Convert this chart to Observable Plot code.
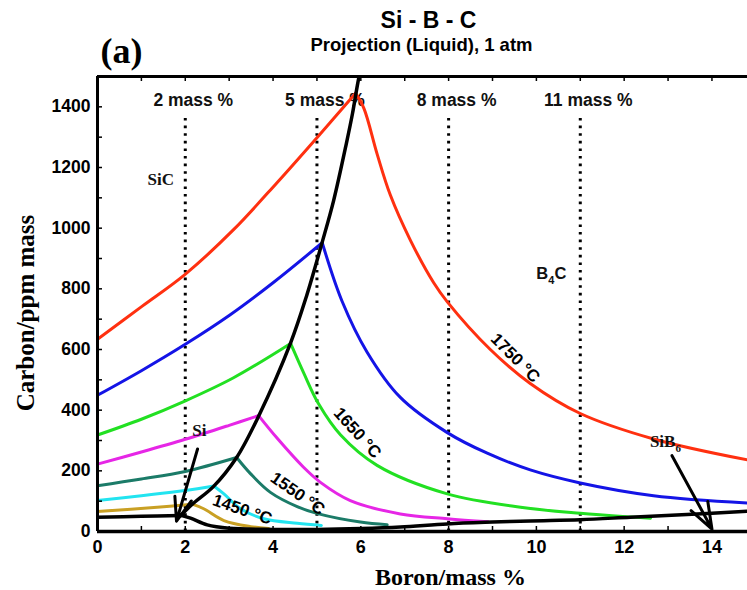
<!DOCTYPE html>
<html>
<head>
<meta charset="utf-8">
<script src="https://cdn.jsdelivr.net/npm/d3@7"></script>
<script src="https://cdn.jsdelivr.net/npm/@observablehq/plot@0.6"></script>
<style>
  html, body { margin: 0; padding: 0; background: #fff; }
</style>
</head>
<body>
<div id="chart"></div>
<script>
// ---- Data (Boron mass %, Carbon ppm mass) ----
const iso1750 = [[0,634],[1.02,743],[1.99,847],[3.1,995],[4.09,1150],[5.04,1305],[5.88,1445],
  [6.07,1395],[6.37,1245],[6.67,1110],[7.13,960],[7.66,820],[7.97,757],[8.95,600],[9.86,488],[11,389],[12.67,305],[14.81,236]];
const iso1700 = [[0,449],[1,530],[2,617],[3,712],[4,820],[5.12,952],
  [5.57,760],[6.14,592],[6.9,442],[7.97,326],[8.88,258],[9.86,203],[11,160],[12.67,118],[14.81,94]];
const iso1650 = [[0,318],[1,370],[1.99,430],[3.1,507],[4.40,620],
  [4.7,522],[5.04,420],[5.54,318],[6.37,218],[7.97,124],[9.64,80],[11,60],[12.14,48],[12.6,44]];
const iso1600 = [[0,222],[1,262],[2,304],[3,350],[3.67,382],
  [4.09,308],[4.7,211],[5.08,162],[5.76,102],[6.9,58],[7.97,42],[8.9,32]];
const iso1550 = [[0,151],[1,173],[2,198],[3.17,244],
  [3.49,190],[3.94,129],[4.55,82],[5.04,58],[5.99,31],[6.6,22]];
const iso1500 = [[0,102],[1,118],[1.99,135],[2.65,150],
  [2.88,124],[3.26,75],[3.79,42],[4.55,27],[5.1,20]];
const iso1450 = [[0,66],[1.36,80],[2.16,90],
  [2.42,75],[2.88,36],[3.49,16],[3.9,10]];

const isoTemps  = [1750, 1700, 1650, 1600, 1550, 1500, 1450];
const isoSeries = [iso1750, iso1700, iso1650, iso1600, iso1550, iso1500, iso1450];
const isoColors = ["#ff3010", "#1414e6", "#22e022", "#e626e6", "#1b7b68", "#22e4f0", "#c9a024"];

// black phase boundaries
const siSicLine  = [[0,47],[1,50],[1.9,53]];
const sicB4cLine = [[1.9,53],[2.16,90],[2.64,148],[3.17,244],[3.67,380],[4.40,622],[4.76,775],[5.12,954],[5.38,1091],[5.67,1279],[5.81,1378],[5.92,1470],[5.99,1523]];
const siLowLine  = [[1.9,53],[2.12,44],[2.5,22],[3.0,11],[4,7],[5,7],[6,10],[6.9,15],[7.97,25],[9.0,31],[9.86,35],[11,39],[12.14,47],[13.43,56],[14.81,67]];

// dotted iso-boron lines
const massLines  = [2, 5, 8, 11];
const massLabels = ["2 mass %", "5 mass %", "8 mass %", "11 mass %"];

// isotherm labels
const tempLabelText = ["1750 °C", "1650 °C", "1550 °C", "1450 °C"];
const tempLabelB    = [9.52, 5.92, 4.56, 3.30];
const tempLabelC    = [572, 325, 125, 72];
const tempLabelRot  = [45, 48, 35, 19];

// phase labels
const phaseText = ["SiC", "Si", "SiB6"];
const phaseB    = [1.44, 2.32, 12.94];
const phaseC    = [1160, 332, 296];
const b4cLabel  = {text: "B4C", b: 10.34, c: 851};

// arrows
const arrows = [
  {b1: 2.28, c1: 272, b2: 1.80, c2: 34},
  {b1: 13.09, c1: 250, b2: 14.0, c2: 8}
];

const xTicks = [0, 2, 4, 6, 8, 10, 12, 14];
const yTicks = [0, 200, 400, 600, 800, 1000, 1200, 1400];
const xMinor = d3.range(0, 15, 1);
const yMinor = d3.range(0, 1500, 100);

// ---- Build ----
const XMAX = 14.81, YMAX = 1500;
const SANS = "Liberation Sans, Arial, sans-serif";
const SERIF = "Liberation Serif, Times New Roman, serif";
const tickLenX = 5 / 43.9;   // data units for ~5 px
const tickLenY = 5 / 0.3033;

function branches(series) {
  let k = 0;
  series.forEach((p, i) => { if (p[1] > series[k][1]) k = i; });
  return [series.slice(0, k + 1), series.slice(k)];
}

const lineMarks = [];
isoSeries.forEach((s, i) => {
  for (const br of branches(s)) {
    lineMarks.push(Plot.line(br, {x: d => d[0], y: d => d[1], stroke: isoColors[i], strokeWidth: 3, curve: "catmull-rom", clip: true}));
  }
});
for (const s of [siSicLine, sicB4cLine, siLowLine]) {
  lineMarks.push(Plot.line(s, {x: d => d[0], y: d => d[1], stroke: "#000", strokeWidth: 3.5, curve: "catmull-rom", clip: true}));
}

const plot = Plot.plot({
  width: 747,
  height: 590,
  marginLeft: 97,
  marginRight: 0,
  marginTop: 76,
  marginBottom: 59,
  x: {domain: [0, XMAX]},
  y: {domain: [0, YMAX]},
  style: {background: "#fff"},
  marks: [
    // dotted lines
    Plot.ruleX(massLines, {x: d => d, y1: 0, y2: 1372, stroke: "#000", strokeWidth: 3, strokeDasharray: "2.6,5"}),
    Plot.text(massLabels, {x: (d, i) => massLines[i], y: 1422, text: d => d, dx: 8, fontSize: 17.5, fontWeight: "bold", fontFamily: SANS, fill: "#111"}),
    ...lineMarks,
    // frame
    Plot.ruleX([0], {stroke: "#000", strokeWidth: 3}),
    Plot.ruleY([0], {stroke: "#000", strokeWidth: 3.5}),
    Plot.ruleY([YMAX], {stroke: "#000", strokeWidth: 3}),
    // inner ticks
    Plot.ruleX(xMinor, {x: d => d, y1: 0, y2: tickLenY, stroke: "#000", strokeWidth: 1.5}),
    Plot.ruleX(xMinor, {x: d => d, y1: YMAX, y2: YMAX - tickLenY, stroke: "#000", strokeWidth: 1.5}),
    Plot.ruleY(yMinor, {y: d => d, x1: 0, x2: tickLenX, stroke: "#000", strokeWidth: 1.5}),
    // axes
    Plot.axisX({ticks: xTicks, tickSize: 0, tickPadding: 9, fontSize: 18, fontWeight: "bold", fontFamily: SANS, label: null, tickFormat: d => String(d)}),
    Plot.axisY({ticks: yTicks, tickSize: 0, tickPadding: 7, fontSize: 17.5, fontWeight: "bold", fontFamily: SANS, label: null, tickFormat: d => String(d)}),
    // isotherm labels
    Plot.text(tempLabelText, {x: (d, i) => tempLabelB[i], y: (d, i) => tempLabelC[i], text: d => d, rotate: (d, i) => tempLabelRot[i], fontSize: 17, fontWeight: "bold", fontFamily: SANS, fill: "#000"}),
    // phase labels
    Plot.text(phaseText, {x: (d, i) => phaseB[i], y: (d, i) => phaseC[i], text: d => d, fontSize: 17, fontWeight: "bold", fontFamily: SERIF, fill: "#111"}),
    Plot.text([b4cLabel], {x: "b", y: "c", text: "text", fontSize: 16.5, fontWeight: "bold", fontFamily: SANS, fill: "#111"}),
    // arrows
    Plot.arrow(arrows, {x1: "b1", y1: "c1", x2: "b2", y2: "c2", stroke: "#000", strokeWidth: 3, headLength: 14, headAngle: 40}),
    // titles
    Plot.text(["Si - B - C"], {frameAnchor: "top", text: d => d, textAnchor: "middle", lineAnchor: "middle", dx: 6, dy: -56, fontSize: 23, fontWeight: "bold", fontFamily: SANS, fill: "#000"}),
    Plot.text(["Projection (Liquid), 1 atm"], {frameAnchor: "top", text: d => d, textAnchor: "middle", lineAnchor: "middle", dx: -1, dy: -31, fontSize: 18.5, fontWeight: "bold", fontFamily: SANS, fill: "#000"}),
    Plot.text(["(a)"], {frameAnchor: "top-left", text: d => d, textAnchor: "start", lineAnchor: "middle", dx: 3, dy: -25, fontSize: 36, fontWeight: "bold", fontFamily: SERIF, fill: "#000"}),
    // axis titles
    Plot.text(["Boron/mass %"], {frameAnchor: "bottom", text: d => d, textAnchor: "middle", lineAnchor: "middle", dx: 28, dy: 46, fontSize: 24, fontWeight: "bold", fontFamily: SERIF, fill: "#000"}),
    Plot.text(["Carbon/ppm mass"], {frameAnchor: "left", text: d => d, textAnchor: "middle", lineAnchor: "middle", dx: -72, dy: 9, rotate: -90, fontSize: 25, fontWeight: "bold", fontFamily: SERIF, fill: "#000"})
  ]
});

// subscripts for chemical formulas
plot.querySelectorAll("text").forEach(t => {
  if (t.textContent === "B4C") {
    t.innerHTML = 'B<tspan dy="5" font-size="11">4</tspan><tspan dy="-5">C</tspan>';
  } else if (t.textContent === "SiB6") {
    t.innerHTML = 'SiB<tspan dy="5" font-size="11">6</tspan>';
  }
});

document.getElementById("chart").appendChild(plot);
</script>
</body>
</html>
